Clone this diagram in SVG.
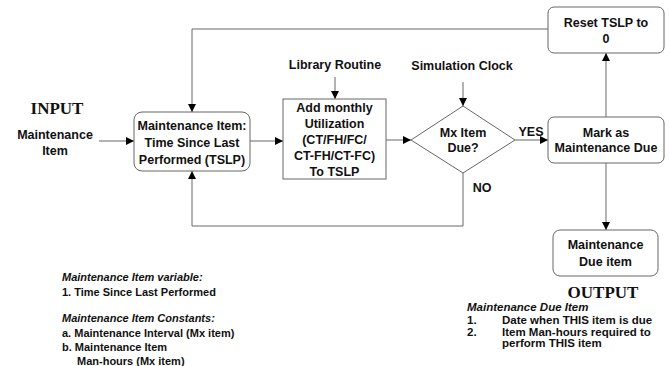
<svg xmlns="http://www.w3.org/2000/svg" width="669" height="366" viewBox="0 0 669 366">
<style>
.t{font-family:"Liberation Sans",Arial,sans-serif;font-size:12.5px;font-weight:bold;fill:#111;text-anchor:middle}
.big{font-family:"Liberation Serif","Times New Roman",serif;font-size:17px;font-weight:bold;fill:#111;text-anchor:middle}
.s{font-family:"Liberation Sans",Arial,sans-serif;font-size:11px;font-weight:bold;fill:#111}
.si{font-family:"Liberation Sans",Arial,sans-serif;font-size:11px;font-weight:bold;font-style:italic;fill:#111}
.r{font-size:11.5px}
.box{fill:#fff;stroke:#666;stroke-width:1}
.ln{fill:none;stroke:#666;stroke-width:1}
</style>
<defs>
<marker id="ah" viewBox="0 0 8 8" refX="8" refY="4" markerWidth="8" markerHeight="8" markerUnits="userSpaceOnUse" orient="auto">
<path d="M0,0 L8,4 L0,8 z" fill="#000"/>
</marker>
</defs>
<rect width="669" height="366" fill="#fff"/>

<g id="connectors">
<path class="ln" d="M99,141 H134" marker-end="url(#ah)"/>
<path class="ln" d="M250,141 H283" marker-end="url(#ah)"/>
<path class="ln" d="M386,140 H411" marker-end="url(#ah)"/>
<path class="ln" d="M515,140 H548" marker-end="url(#ah)"/>
<path class="ln" d="M335,77 V99" marker-end="url(#ah)"/>
<path class="ln" d="M463,82 V106" marker-end="url(#ah)"/>
<path class="ln" d="M606,117 V53" marker-end="url(#ah)"/>
<path class="ln" d="M606,163 V230" marker-end="url(#ah)"/>
<path class="ln" d="M548,29 H192 V112" marker-end="url(#ah)"/>
<path class="ln" d="M463,173 V226 H192 V171" marker-end="url(#ah)"/>
<text class="t" x="531" y="136">YES</text>
<text class="t" x="482" y="192">NO</text>
</g>

<g id="input">
<text class="big" x="57" y="114">INPUT</text>
<text class="t" x="55" y="139">Maintenance</text>
<text class="t" x="55" y="155">Item</text>
</g>

<g id="tslp">
<rect class="box" x="134" y="112" width="116" height="59" rx="8"/>
<text class="t" x="192" y="130">Maintenance Item:</text>
<text class="t" x="192" y="147">Time Since Last</text>
<text class="t" x="192" y="164">Performed (TSLP)</text>
</g>

<g id="library">
<text class="t" x="335" y="69">Library Routine</text>
</g>

<g id="add">
<rect class="box" x="283" y="99" width="103" height="80"/>
<text class="t" x="334.5" y="112">Add monthly</text>
<text class="t" x="334.5" y="128">Utilization</text>
<text class="t" x="334.5" y="144">(CT/FH/FC/</text>
<text class="t" x="334.5" y="160">CT-FH/CT-FC)</text>
<text class="t" x="334.5" y="176">To TSLP</text>
</g>

<g id="clock">
<text class="t" x="462" y="70">Simulation Clock</text>
</g>

<g id="due">
<path class="box" d="M463,106 L515,140 L463,173 L411,140 z"/>
<text class="t" x="463" y="137">Mx Item</text>
<text class="t" x="463" y="152">Due?</text>
</g>

<g id="mark">
<rect class="box" x="548" y="117" width="116" height="46" rx="6"/>
<text class="t" x="606" y="137">Mark as</text>
<text class="t" x="606" y="152">Maintenance Due</text>
</g>

<g id="reset">
<rect class="box" x="548" y="7" width="116" height="46" rx="6"/>
<text class="t" x="606" y="27">Reset TSLP to</text>
<text class="t" x="606" y="43">0</text>
</g>

<g id="dueitem">
<rect class="box" x="553" y="230" width="105" height="46" rx="7"/>
<text class="t" x="605.5" y="249">Maintenance</text>
<text class="t" x="605.5" y="266">Due item</text>
</g>

<g id="output">
<text class="big" x="603" y="298">OUTPUT</text>
<text class="si r" x="467" y="311">Maintenance Due Item</text>
<text class="s r" x="467" y="324">1.</text>
<text class="s r" x="502" y="324">Date when THIS item is due</text>
<text class="s r" x="467" y="336">2.</text>
<text class="s r" x="502" y="336">Item Man-hours required to</text>
<text class="s r" x="502" y="347">perform THIS item</text>
</g>

<g id="notes">
<text class="si" x="62" y="281">Maintenance Item variable:</text>
<text class="s" x="62" y="296">1. Time Since Last Performed</text>
<text class="si" x="62" y="322">Maintenance Item Constants:</text>
<text class="s" x="62" y="337">a. Maintenance Interval (Mx item)</text>
<text class="s" x="62" y="351">b. Maintenance Item</text>
<text class="s" x="77" y="365">Man-hours (Mx item)</text>
</g>
</svg>
